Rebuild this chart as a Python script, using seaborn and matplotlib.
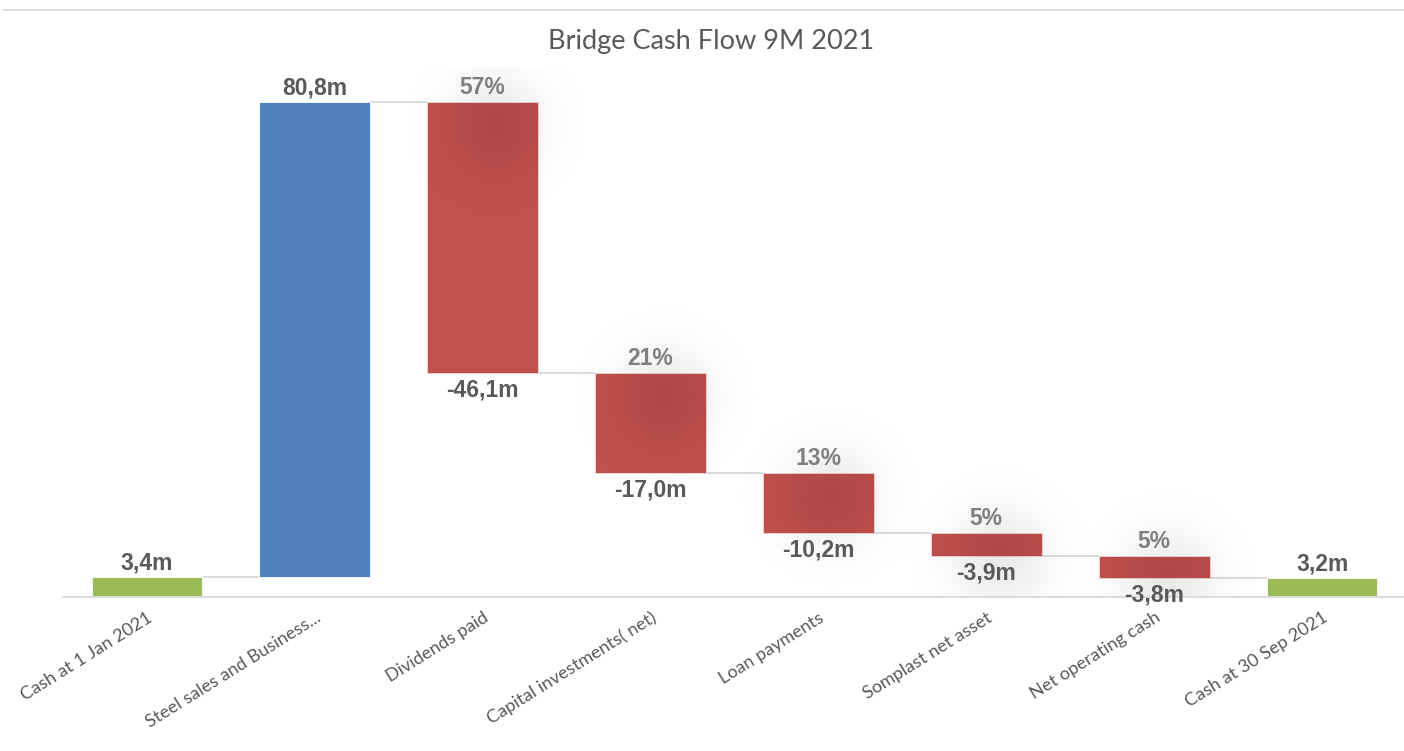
import numpy as np
import pandas as pd
import matplotlib
matplotlib.use("Agg")
import matplotlib.pyplot as plt
from matplotlib.lines import Line2D
import seaborn as sns

# Cash bridge, January to September 2021 (EUR m)
categories = [
    "Cash at 1 Jan 2021",
    "Steel sales and Business...",
    "Dividends paid",
    "Capital investments( net)",
    "Loan payments",
    "Somplast net asset",
    "Net operating cash",
    "Cash at 30 Sep 2021",
]
amounts = [3.4, 80.8, -46.1, -17.0, -10.2, -3.9, -3.8, 3.2]
kinds = ["total", "increase", "decrease", "decrease", "decrease",
         "decrease", "decrease", "total"]

palette = {"total": "#9BBB59", "increase": "#4F81BD", "decrease": "#C0504D"}
label_color = "#595959"
share_color = "#7F7F7F"
line_color = "#D9D9D9"

# running levels: each change bar starts where the previous one ended
bottoms, ends = [], []
level = 0.0
for amt, kind in zip(amounts, kinds):
    if kind == "total":
        bottoms.append(0.0)
        level = amt
    else:
        bottoms.append(level)
        level = level + amt
    ends.append(level)

outflow_total = -sum(a for a, k in zip(amounts, kinds) if k == "decrease")

df = pd.DataFrame({"category": categories, "amount": amounts,
                   "bottom": bottoms, "kind": kinds})

sns.set_theme(style="white")
plt.rcParams["font.family"] = ["Lato", "DejaVu Sans"]

W, H, DPI = 1404, 751, 100
fig = plt.figure(figsize=(W / DPI, H / DPI), dpi=DPI)
ax = fig.add_axes([63 / W, (H - 597) / H, (1406 - 63) / W, (597 - 68) / H])

sns.barplot(data=df, x="category", y="amount", order=categories,
            bottom=df["bottom"].to_numpy(), width=0.66, color="#C0504D",
            errorbar=None, ax=ax, zorder=2, linewidth=0.6)
for patch, kind in zip(ax.patches, kinds):
    patch.set_facecolor(palette[kind])
    patch.set_edgecolor("#F2DCDB" if kind == "decrease" else "white")

ax.set_xlim(-0.5, len(categories) - 0.5)
ax.set_ylim(0, 90)

# connector lines between consecutive bars
half = 0.33
for i in range(len(categories) - 1):
    ax.plot([i + half, i + 1 - half], [ends[i], ends[i]],
            color=line_color, lw=1.3, zorder=1, solid_capstyle="butt")

ax.set_xlabel("")
ax.set_ylabel("")
ax.set_yticks([])
ax.tick_params(axis="x", length=0, pad=9)
ax.set_xticks(range(len(categories)))
ax.set_xticklabels(categories, rotation=32, ha="right", va="top",
                   rotation_mode="anchor", fontsize=13, color=label_color)
for side in ["top", "right", "left"]:
    ax.spines[side].set_visible(False)
ax.spines["bottom"].set_color(line_color)
ax.spines["bottom"].set_linewidth(1.3)


def fmt(v):
    return f"{v:.1f}".replace(".", ",") + "m"


def soft_glow(x, y, dx=13, dy=-24, radius=90, sigma=36, peak=0.085):
    cx, cy = ax.transData.transform((x, y))
    cx, cy = cx + dx, cy + dy
    n = 181
    g = np.linspace(-radius, radius, n)
    xx, yy = np.meshgrid(g, g)
    a = peak * np.exp(-(xx ** 2 + yy ** 2) / (2 * sigma ** 2))
    img = np.zeros((n, n, 4))
    img[..., 3] = a
    inv = ax.transData.inverted()
    x0, y0 = inv.transform((cx - radius, cy - radius))
    x1, y1 = inv.transform((cx + radius, cy + radius))
    ax.imshow(img, extent=[x0, x1, y0, y1], aspect="auto",
              interpolation="bilinear", zorder=2.5)


value_font = dict(family=["Liberation Sans", "DejaVu Sans"], fontweight="bold",
                  fontsize=16.5)
for i, (amt, kind, b, e) in enumerate(zip(amounts, kinds, bottoms, ends)):
    top = max(b, e) if kind != "total" else amt
    if kind == "decrease":
        share = round(-amt / outflow_total * 100)
        soft_glow(i, b)
        ax.annotate(f"{share}%", (i, b), xytext=(0, 2), textcoords="offset points",
                    ha="center", va="bottom", color=share_color, zorder=4,
                    annotation_clip=False, **value_font)
        ax.annotate(fmt(amt), (i, e), xytext=(0, -4), textcoords="offset points",
                    ha="center", va="top", color=label_color, zorder=4,
                    annotation_clip=False, **value_font)
    else:
        ax.annotate(fmt(amt), (i, top), xytext=(0, 2), textcoords="offset points",
                    ha="center", va="bottom", color=label_color, zorder=4,
                    annotation_clip=False, **value_font)

ax.set_xlim(-0.5, len(categories) - 0.5)
ax.set_ylim(0, 90)

fig.text(711.5 / W, 1 - 42 / H, "Bridge Cash Flow 9M 2021", ha="center",
         va="center", fontsize=19.5, color=label_color)
fig.add_artist(Line2D([3 / W, 1], [1 - 9.5 / H, 1 - 9.5 / H], color=line_color,
                      lw=1.2, transform=fig.transFigure))

fig.savefig("out.png", dpi=DPI, facecolor="white")
